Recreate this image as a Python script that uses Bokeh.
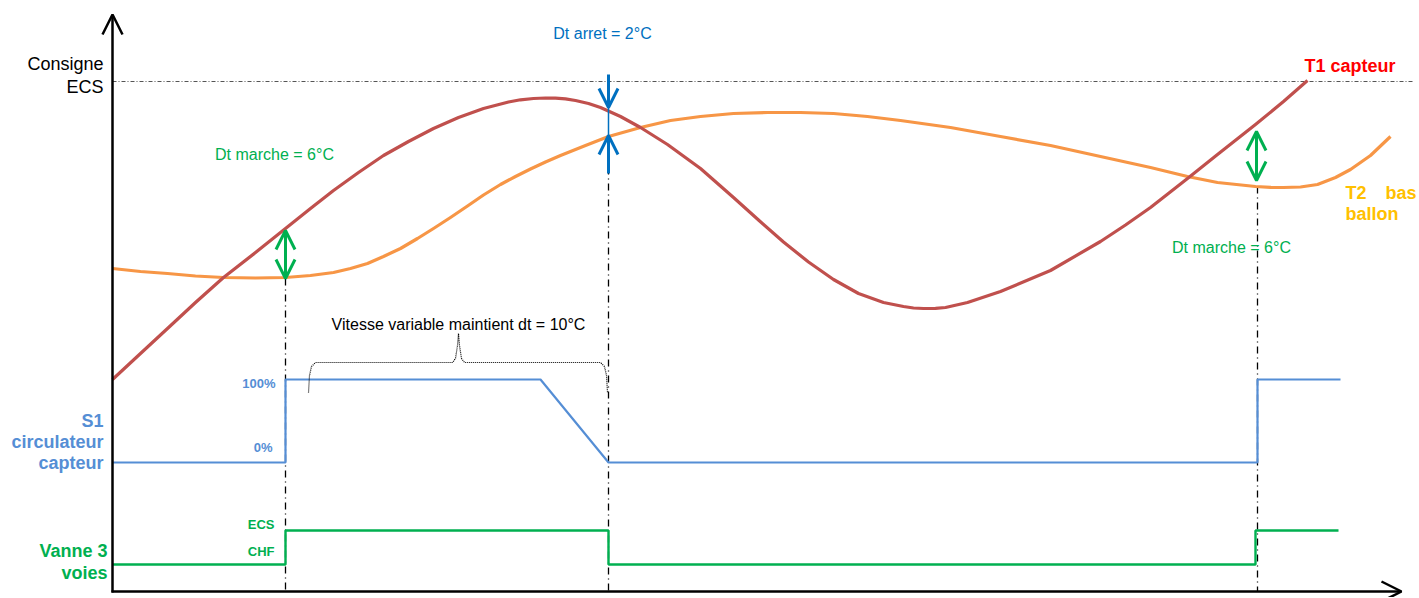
from bokeh.plotting import figure
from bokeh.models import Range1d, Arrow, OpenHead
from bokeh.core.properties import value
from bokeh.embed import file_html
from bokeh.resources import INLINE

# ---------------- data (x = time position, y = level position, screen-like) ----------------
t1_x = [112, 140, 167, 195, 223, 255, 285, 310, 333, 358, 383, 408, 433, 458, 483, 508, 520, 533, 545, 555,
        565, 575, 588, 600, 620, 640, 667, 700, 733, 758, 783, 808, 833, 858, 883, 903, 913, 923, 935, 945, 967, 1000,
        1050, 1100, 1125, 1150, 1187, 1217, 1255, 1283, 1307]
t1_y = [379, 353, 328, 302, 277, 252, 228, 208, 190, 172, 155, 141, 128, 117, 108, 101.5, 99.3, 98, 97.5, 97.6,
        98.3, 100, 103, 107, 116, 127, 144, 168, 197, 219.5, 241.5, 261.5, 279, 293, 302, 306, 307.5, 308, 307.8, 307, 302, 291,
        270, 241, 224.5, 207, 178, 154, 124, 101, 80]

t2_x = [112, 140, 167, 195, 223, 255, 285, 310, 333, 350, 367, 383, 400, 417, 433, 450, 467, 483,
        500, 515, 530, 545, 560, 585, 608, 640, 670, 700, 733, 767, 800, 833, 867, 900, 950, 1000, 1050, 1100,
        1150, 1187, 1217, 1255, 1270, 1283, 1300, 1317, 1335, 1350, 1370, 1390]
t2_y = [268, 271, 273, 275.5, 277, 277.5, 277, 275, 272, 268, 263, 256, 248, 238, 228, 217, 205.5, 194.5,
        184, 176, 168.5, 161.5, 155, 145, 136, 127, 120, 116, 113, 112, 112, 113, 116, 120, 127, 136, 145, 156,
        167, 176, 182, 186, 186.8, 187, 186.5, 184, 177, 169, 155, 136]

s1_x = [112, 285, 285, 540, 608, 1257, 1257, 1340]
s1_y = [462, 462, 379, 379, 462, 462, 379, 379]

v3_x = [112, 285, 285, 608, 608, 1255, 1255, 1338]
v3_y = [564, 564, 530, 530, 564, 564, 530, 530]

events_x = [285, 608, 1257]
events_top = [278, 135, 186]
consigne_y = 81

brace_x = [308, 309, 311, 315, 452, 455, 457, 458, 459, 461, 464, 600, 604, 606, 607]
brace_y = [392, 375, 366, 362, 362, 358, 345, 333, 345, 358, 362, 362, 366, 375, 392]

# ---------------- figure ----------------
W, H = 1419, 597
p = figure(width=W, height=H, x_range=Range1d(0, W), y_range=Range1d(H, 0),
           output_backend="svg", toolbar_location=None, x_axis_type=None, y_axis_type=None,
           min_border=0, outline_line_color=None, background_fill_color="white")
p.grid.visible = False

FONT = value("Liberation Sans")
RED_CURVE = "#C0504D"
ORANGE = "#F79646"
BLUE_S1 = "#558ED5"
GREEN = "#00B050"
BLUE_DT = "#0070C0"

# consigne line
p.line([112, 1413], [consigne_y, consigne_y], line_color="#555555", line_width=1, line_dash="4 2 1 2")

# event vertical lines
for ex, et in zip(events_x, events_top):
    p.line([ex, ex], [et, 591], line_color="black", line_width=1.3, line_dash="7 4 1 4")

# curves
p.line(t2_x, t2_y, line_color=ORANGE, line_width=3.2, line_join="round")
p.line(t1_x, t1_y, line_color=RED_CURVE, line_width=3.2, line_join="round")

# steps
p.line(s1_x, s1_y, line_color=BLUE_S1, line_width=2.2)
p.line(v3_x, v3_y, line_color=GREEN, line_width=2.4)

# brace
p.line(brace_x, brace_y, line_color="black", line_width=1.2, line_dash="1 1")

# axes arrows
p.add_layout(Arrow(end=OpenHead(size=20, line_width=2.5, line_color="black"),
                   x_start=112, y_start=592, x_end=112, y_end=14,
                   line_width=2.5, line_color="black"))
p.add_layout(Arrow(end=OpenHead(size=20, line_width=2.5, line_color="black"),
                   x_start=111, y_start=591, x_end=1401, y_end=591,
                   line_width=2.5, line_color="black"))

# Dt marche arrows (green, double)
for ax, top, bot in [(285, 230, 278), (1256, 131, 180)]:
    p.add_layout(Arrow(start=OpenHead(size=19, line_width=3, line_color=GREEN),
                       end=OpenHead(size=19, line_width=3, line_color=GREEN),
                       x_start=ax, y_start=top, x_end=ax, y_end=bot,
                       line_width=3, line_color=GREEN))

# Dt arret arrows (blue)
p.line([608, 608], [107, 135], line_color=BLUE_DT, line_width=1.5)
p.add_layout(Arrow(end=OpenHead(size=19, line_width=3, line_color=BLUE_DT),
                   x_start=608, y_start=74, x_end=608, y_end=107,
                   line_width=3, line_color=BLUE_DT))
p.add_layout(Arrow(end=OpenHead(size=19, line_width=3, line_color=BLUE_DT),
                   x_start=608, y_start=173, x_end=608, y_end=135,
                   line_width=3, line_color=BLUE_DT))


def txt(x, y, s, color="black", size="16px", align="left", bold=False):
    p.text(x=[x], y=[y], text=[s], text_color=color, text_font=FONT, text_font_size=size,
           text_align=align, text_baseline="middle",
           text_font_style="bold" if bold else "normal")


txt(103, 63, "Consigne", size="18px", align="right")
txt(103, 86, "ECS", size="18px", align="right")

txt(602, 33, "Dt arret = 2°C", color=BLUE_DT, align="center")
txt(274, 154, "Dt marche = 6°C", color=GREEN, align="center")
txt(1231, 247, "Dt marche = 6°C", color=GREEN, align="center")
txt(458, 324, "Vitesse variable maintient dt = 10°C", align="center")

txt(1304, 65, "T1 capteur", color="#FF0000", size="18px", bold=True)
txt(1345, 192, "T2", color="#FFC000", size="18px", bold=True)
txt(1385, 192, "bas", color="#FFC000", size="18px", bold=True)
txt(1345, 213, "ballon", color="#FFC000", size="18px", bold=True)

txt(103, 420, "S1", color=BLUE_S1, size="18px", align="right", bold=True)
txt(103, 441, "circulateur", color=BLUE_S1, size="18px", align="right", bold=True)
txt(103, 462, "capteur", color=BLUE_S1, size="18px", align="right", bold=True)
txt(275, 383, "100%", color=BLUE_S1, size="13px", align="right", bold=True)
txt(272, 447, "0%", color=BLUE_S1, size="13px", align="right", bold=True)

txt(107, 550, "Vanne 3", color=GREEN, size="18px", align="right", bold=True)
txt(107, 572, "voies", color=GREEN, size="18px", align="right", bold=True)
txt(274, 524, "ECS", color=GREEN, size="13px", align="right", bold=True)
txt(274, 551, "CHF", color=GREEN, size="13px", align="right", bold=True)

open("out.html", "w").write(file_html(p, INLINE))
